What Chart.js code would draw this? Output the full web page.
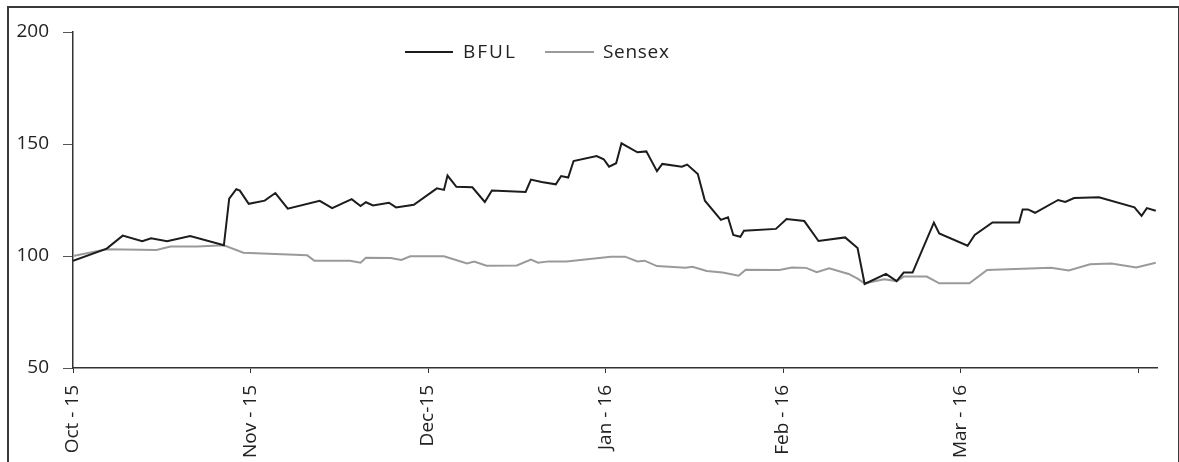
<!DOCTYPE html>
<html>
<head>
<meta charset="utf-8">
<script src="https://cdn.jsdelivr.net/npm/chart.js@4.4.1/dist/chart.umd.min.js"></script>
<style>
    body { margin: 0; background: #fff; }
    .frame {
        position: absolute; left: 7px; top: 6px; width: 1169px; height: 470px;
        border: 2px solid #3a3a3a; border-bottom: none;
    }
    #grafico { position: absolute; left: 0; top: 0; }
</style>
</head>
<body>
<div class="frame"></div>
<canvas id="grafico" width="1179" height="462"></canvas>
<script>
// positions are in months from Oct-15 (ticks are one month apart)
const tickLabels = ['Oct - 15', 'Nov - 15', 'Dec-15', 'Jan - 16', 'Feb - 16', 'Mar - 16', ''];

const bfulX = [0.00, 0.19, 0.28, 0.39, 0.44, 0.53, 0.66, 0.85, 0.88, 0.92, 0.94, 0.99,
    1.08, 1.14, 1.21, 1.39, 1.46, 1.57, 1.62, 1.65, 1.69, 1.78, 1.82, 1.92,
    2.05, 2.09, 2.11, 2.16, 2.25, 2.32, 2.36, 2.55, 2.58, 2.64, 2.72, 2.75, 2.79, 2.82, 2.95, 2.99,
    3.02, 3.06, 3.09, 3.18, 3.23, 3.29, 3.32, 3.43, 3.46, 3.52, 3.56, 3.65, 3.69, 3.72, 3.76, 3.78, 3.96,
    4.02, 4.12, 4.20, 4.35, 4.42, 4.46, 4.58, 4.64, 4.68, 4.73, 4.85, 4.88,
    5.04, 5.08, 5.18, 5.33, 5.35, 5.38, 5.42, 5.55, 5.59, 5.64, 5.78, 5.98,
    6.02, 6.05, 6.10];
const bfulY = [97.9, 103.3, 109.1, 106.6, 107.9, 106.6, 108.9, 104.8, 125.6, 129.8, 129.2, 123.3,
    124.7, 128.1, 121.1, 124.6, 121.4, 125.4, 122.3, 124.0, 122.6, 123.8, 121.7, 122.9,
    130.2, 129.5, 135.9, 130.9, 130.7, 124.1, 129.2, 128.6, 134.1, 133.0, 132.0, 135.7, 135.0, 142.4, 144.6, 143.2,
    139.9, 141.4, 150.3, 146.3, 146.7, 137.9, 141.1, 139.9, 140.8, 136.6, 124.7, 116.1, 117.3, 109.4, 108.6, 111.3, 112.1,
    116.5, 115.6, 106.7, 108.3, 103.6, 87.5, 92.0, 88.8, 92.6, 92.6, 114.9, 110.1,
    104.6, 109.4, 115.0, 115.0, 120.8, 120.8, 119.3, 125.0, 124.1, 125.9, 126.2, 121.7,
    117.9, 121.4, 120.2];

const sensexX = [0.00, 0.19, 0.47, 0.55, 0.70, 0.85, 0.96, 1.32, 1.36, 1.56, 1.62, 1.65, 1.79, 1.85, 1.90,
    2.09, 2.22, 2.26, 2.33, 2.50, 2.58, 2.62, 2.68, 2.78,
    3.03, 3.11, 3.18, 3.22, 3.29, 3.45, 3.49, 3.57, 3.66, 3.75, 3.79, 3.98,
    4.05, 4.13, 4.19, 4.26, 4.37, 4.42, 4.46, 4.57, 4.64, 4.68, 4.81, 4.88,
    5.05, 5.15, 5.51, 5.61, 5.73, 5.85, 5.99, 6.10];
const sensexY = [100.0, 103.0, 102.7, 104.2, 104.2, 104.8, 101.5, 100.3, 97.9, 97.9, 97.0, 99.2, 99.1, 98.2, 99.9,
    99.9, 96.7, 97.5, 95.7, 95.8, 98.4, 97.0, 97.6, 97.6,
    99.7, 99.7, 97.6, 97.9, 95.5, 94.8, 95.2, 93.3, 92.6, 91.2, 93.9, 93.8,
    94.9, 94.7, 92.8, 94.5, 92.0, 89.9, 87.8, 89.6, 88.8, 90.8, 90.8, 87.8,
    87.8, 93.8, 94.8, 93.5, 96.3, 96.6, 94.9, 97.0];

const toPoints = (xs, ys) => xs.map((x, i) => ({ x: x, y: ys[i] }));

// legend drawn by hand, it sits left of centre in the original
const legendaManual = {
    id: 'legendaManual',
    afterDraw(chart) {
        const ctx = chart.ctx;
        const items = [
            { ds: 0, x0: 405, x1: 453, tx: 463 },
            { ds: 1, x0: 545, x1: 594, tx: 603 }
        ];
        const y = 52;
        ctx.save();
        ctx.font = '19px "Open Sans"';
        ctx.textBaseline = 'middle';
        items.forEach(it => {
            const ds = chart.data.datasets[it.ds];
            ctx.strokeStyle = ds.borderColor;
            ctx.lineWidth = 2;
            ctx.beginPath();
            ctx.moveTo(it.x0, y);
            ctx.lineTo(it.x1, y);
            ctx.stroke();
            ctx.fillStyle = '#222';
            if (ctx.letterSpacing !== undefined) ctx.letterSpacing = it.ds === 0 ? '2px' : '0.7px';
            ctx.fillText(ds.label, it.tx, y + 1);
        });
        ctx.restore();
    }
};

window.onload = function () {
    const grfc = document.getElementById('grafico');

    new Chart(grfc, {
        type: 'line',
        data: {
            datasets: [{
                label: 'BFUL',
                data: toPoints(bfulX, bfulY),
                borderColor: '#1c1c1c',
                borderWidth: 2,
                pointRadius: 0,
                tension: 0
            }, {
                label: 'Sensex',
                data: toPoints(sensexX, sensexY),
                borderColor: '#9a9a9a',
                borderWidth: 2,
                pointRadius: 0,
                tension: 0
            }]
        },
        options: {
            responsive: false,
            animation: false,
            layout: { padding: { top: 32, right: 22, left: 0, bottom: 0 } },
            plugins: {
                legend: { display: false },
                tooltip: { enabled: false }
            },
            scales: {
                x: {
                    type: 'linear',
                    min: 0,
                    max: 6.107,
                    afterBuildTicks(scale) {
                        scale.ticks = tickLabels.map((t, i) => ({ value: i }));
                    },
                    afterFit(scale) { scale.height = 94; },
                    ticks: {
                        autoSkip: false,
                        minRotation: 90,
                        maxRotation: 90,
                        padding: 12,
                        color: '#222',
                        font: { family: 'Open Sans', size: 19 },
                        callback: (v) => tickLabels[v]
                    },
                    grid: { drawOnChartArea: false, tickLength: 5, color: '#333' },
                    border: { color: '#333', width: 1.5 }
                },
                y: {
                    min: 50,
                    max: 200,
                    afterFit(scale) { scale.width = 73; },
                    ticks: {
                        stepSize: 50,
                        padding: 14,
                        color: '#222',
                        font: { family: 'Open Sans', size: 19 }
                    },
                    grid: { drawOnChartArea: false, tickLength: 10, color: '#555' },
                    border: { color: '#333', width: 1.5 }
                }
            }
        },
        plugins: [legendaManual]
    });
}
</script>
</body>
</html>
